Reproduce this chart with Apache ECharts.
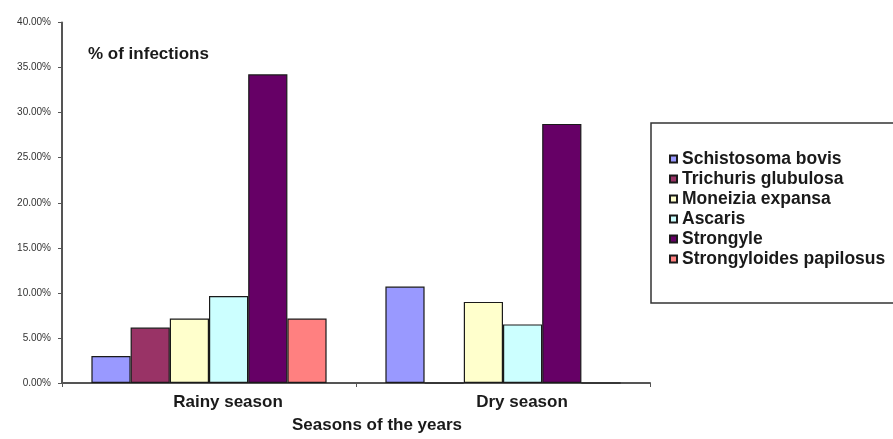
<!DOCTYPE html>
<html>
<head>
<meta charset="utf-8">
<script src="https://cdn.jsdelivr.net/npm/echarts@6/dist/echarts.min.js"></script>
<style>
html,body{margin:0;padding:0;background:#fff;}
#chart{width:893px;height:439px;}
</style>
</head>
<body>
<div id="chart"></div>
<script>
// Data (percent of infections)
var categories = ['Rainy season', 'Dry season'];
var seriesNames = ['Schistosoma bovis', 'Trichuris glubulosa', 'Moneizia expansa', 'Ascaris', 'Strongyle', 'Strongyloides papilosus'];
var schistosoma = [3.0, 10.7];
var trichuris = [6.15, 0];
var moneizia = [7.15, 9.0];
var ascaris = [9.65, 6.5];
var strongyle = [34.25, 28.75];
var strongyloides = [7.15, 0];
var yTicks = [0, 5, 10, 15, 20, 25, 30, 35, 40];

var seriesValues = [schistosoma, trichuris, moneizia, ascaris, strongyle, strongyloides];
var colors = ['#9999FF', '#993366', '#FFFFCC', '#CCFFFF', '#660066', '#FF8080'];

var chart = echarts.init(document.getElementById('chart'));
var font = 'Liberation Sans, Arial, sans-serif';

var option = {
  backgroundColor: '#ffffff',
  animation: false,
  grid: { left: 62, right: 243, top: 22.5, bottom: 52.5, containLabel: false },
  title: {
    text: '% of infections',
    left: 83, top: 41,
    textStyle: { fontFamily: font, fontSize: 17, fontWeight: 'bold', color: '#1a1a1a' }
  },
  legend: {
    orient: 'vertical',
    left: 664, top: 145,
    itemWidth: 7, itemHeight: 7,
    itemGap: 2,
    icon: 'rect',
    data: seriesNames,
    textStyle: { fontFamily: font, fontSize: 17.5, fontWeight: 'bold', color: '#1a1a1a', lineHeight: 17 }
  },
  graphic: [{
    type: 'rect',
    shape: { x: 651, y: 123, width: 260, height: 180 },
    style: { fill: 'none', stroke: '#333', lineWidth: 1.5 },
    z: -1
  }],
  xAxis: {
    type: 'category',
    data: categories,
    axisLine: { lineStyle: { color: '#555', width: 2 } },
    axisTick: { show: true, length: 4, lineStyle: { color: '#555' } },
    axisLabel: {
      fontFamily: font, fontSize: 17, fontWeight: 'bold', color: '#1a1a1a',
      margin: 11, padding: [0, 0, 0, 38]
    },
    name: 'Seasons of the years',
    nameLocation: 'middle',
    nameGap: 34,
    nameTextStyle: { fontFamily: font, fontSize: 17, fontWeight: 'bold', color: '#1a1a1a', padding: [0, 0, 0, 42] }
  },
  yAxis: {
    type: 'value',
    min: yTicks[0], max: yTicks[yTicks.length - 1], interval: 5,
    axisLine: { show: true, lineStyle: { color: '#555', width: 2 } },
    axisTick: { show: true, length: 4, lineStyle: { color: '#555' } },
    splitLine: { show: false },
    axisLabel: {
      fontFamily: font, fontSize: 10, color: '#333', margin: 11,
      formatter: function (v) { return v.toFixed(2) + '%'; }
    }
  },
  series: seriesNames.map(function (n, i) {
    return {
      name: n,
      type: 'bar',
      data: seriesValues[i],
      barGap: '0%',
      barCategoryGap: '20%',
      itemStyle: { color: colors[i], borderColor: '#1a1a1a', borderWidth: 1.2 }
    };
  })
};
chart.setOption(option);
</script>
</body>
</html>
